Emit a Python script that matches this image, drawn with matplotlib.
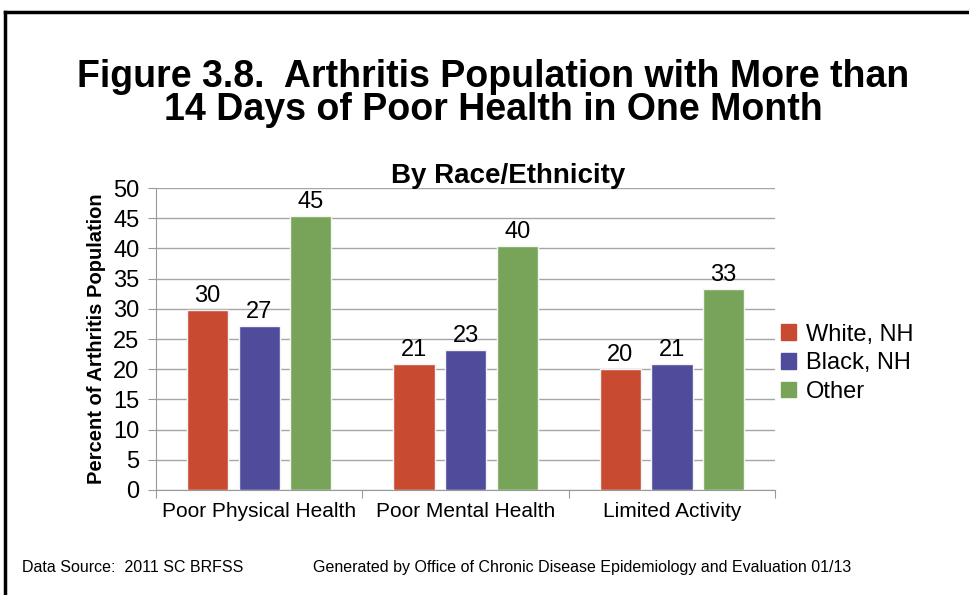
import numpy as np
import matplotlib
matplotlib.use("Agg")
import matplotlib.pyplot as plt
from matplotlib.patches import Rectangle
from matplotlib.lines import Line2D

categories = ["Poor Physical Health", "Poor Mental Health", "Limited Activity"]
series = ["White, NH", "Black, NH", "Other"]
white_nh = [29.8, 20.8, 20.0]
black_nh = [27.2, 23.1, 20.8]
other = [45.4, 40.4, 33.2]
colors = ["#C84B31", "#4F4C9C", "#78A45A"]
yticks = list(range(0, 51, 5))

plt.rcParams["font.family"] = ["Liberation Sans", "DejaVu Sans"]

fig = plt.figure(figsize=(9.69, 5.95), dpi=100)
ax = fig.add_axes([0.161, 0.1765, 0.639, 0.5075])

x = np.arange(len(categories)) + 0.5
for i, vals in enumerate([white_nh, black_nh, other]):
    bars = ax.bar(x + (i - 1) * 0.25, vals, width=0.2, color=colors[i],
                  edgecolor="#f4f4f4", linewidth=1.0, zorder=3, label=series[i])
    for b, v in zip(bars, vals):
        ax.text(b.get_x() + b.get_width() / 2, v + 0.5, "%.0f" % v,
                ha="center", va="bottom", fontsize=17)

ax.set_xlim(0, 3)
ax.set_ylim(0, 50)
ax.set_yticks(yticks)
ax.tick_params(axis="y", labelsize=17, length=6, color="#999999", pad=6)
ax.set_xticks([0, 1, 2, 3])
ax.set_xticklabels([])
ax.set_xticks(x, minor=True)
ax.set_xticklabels(categories, minor=True, fontsize=15)
ax.tick_params(axis="x", which="major", length=6, color="#999999")
ax.tick_params(axis="x", which="minor", length=0, pad=9)
ax.grid(axis="y", color="#a6a6a6", linewidth=1.0, zorder=0)
for s in ["top", "right"]:
    ax.spines[s].set_visible(False)
for s in ["left", "bottom"]:
    ax.spines[s].set_color("#999999")

ax.set_ylabel("Percent of Arthritis Population", fontsize=14.5, fontweight="bold",
              labelpad=5)

handles = [Rectangle((0, 0), 1, 1, color=c) for c in colors]
fig.legend(handles, series, loc="upper left", bbox_to_anchor=(0.796, 0.472),
           frameon=False, fontsize=17, handlelength=0.65, handleheight=0.65,
           handletextpad=0.4, labelspacing=0.28, borderaxespad=0)

fig.text(0.509, 0.843, "Figure 3.8.  Arthritis Population with More than\n14 Days of Poor Health in One Month",
         ha="center", va="center", fontsize=27, fontweight="bold", linespacing=0.88)
fig.text(0.524, 0.704, "By Race/Ethnicity", ha="center", va="center",
         fontsize=20, fontweight="bold")

fig.text(0.023, 0.047, "Data Source:  2011 SC BRFSS", ha="left", va="center",
         fontsize=11.5)
fig.text(0.323, 0.047, "Generated by Office of Chronic Disease Epidemiology and Evaluation 01/13",
         ha="left", va="center", fontsize=11.5)

# outer frame
fig.add_artist(Line2D([0.0055, 1.0], [1 - 12 / 595, 1 - 12 / 595], color="black",
                      linewidth=2.5, transform=fig.transFigure))
fig.add_artist(Line2D([0.0055, 0.0055], [0, 1 - 12 / 595], color="black",
                      linewidth=2.5, transform=fig.transFigure))

fig.savefig("out.png", dpi=100, facecolor="white")
